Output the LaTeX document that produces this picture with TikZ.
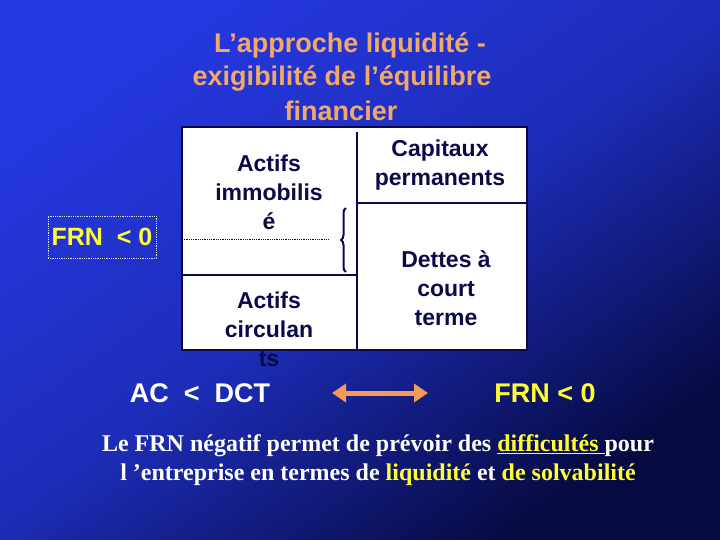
\documentclass[tikz,border=0pt]{standalone}
\usepackage{fontspec}
\setmainfont{Liberation Sans}
\newfontfamily\serifb{Liberation Serif}
\usetikzlibrary{arrows.meta,decorations.pathreplacing}
\definecolor{ink}{HTML}{0A0A48}
\definecolor{ttl}{HTML}{F4A868}
\definecolor{yel}{HTML}{FFFF33}
\definecolor{orng}{HTML}{F59A55}
\definecolor{bgA}{HTML}{2538E0}
\definecolor{bgB}{HTML}{060A40}
\tikzset{
  cell/.style={font=\bfseries\fontsize{23}{29}\selectfont, text=ink, align=center},
  ttlstyle/.style={font=\bfseries\fontsize{27}{33}\selectfont, text=ttl, align=center},
}
\begin{document}
\begin{tikzpicture}[x=1pt,y=-1pt]
\shade[top color=bgA, bottom color=bgB, middle color=bgA!75!bgB, shading angle=35] (0,0) rectangle (720,540);
\useasboundingbox (0,0) rectangle (720,540);
% title
\node[ttlstyle] (t1) at (350,45) {L’approche liquidité -};
\node[ttlstyle] (t2) at (342,78) {exigibilité de l’équilibre};
\node[ttlstyle] (t3) at (341,111) {financier};
% box
\fill[white] (182,127) rectangle (527,350);
\draw[ink,line width=2.5pt] (182,127) rectangle (527,350);
\draw[ink,line width=2.5pt] (357,132) -- (357,350);
\draw[ink,line width=2.5pt] (182,275) -- (357,275);
\draw[ink,line width=2.5pt] (357,203) -- (527,203);
\draw[ink,densely dotted,line width=0.8pt] (182,239) -- (328,239);
\draw[ink,line width=2pt,decorate,decoration={brace,amplitude=5pt}] (346,272) -- (346,208);
% texts
\node[cell] (ai) at (269,192) {Actifs\\immobilis\\é};
\node[cell] (ac) at (269,329) {Actifs\\circulan\\ts};
\node[cell] (cp) at (440,165) {Capitaux\\permanents};
\node[cell] (dct) at (446,288) {Dettes à\\court\\terme};
% FRN box
\node[draw=white!85!blue,densely dotted,line width=0.8pt,minimum width=108pt,minimum height=42pt,
      font=\bfseries\fontsize{25}{28}\selectfont,text=yel,inner sep=1pt] (frn1) at (102,237) {FRN\ \ < 0};
% bottom row
\node[font=\bfseries\fontsize{27}{30}\selectfont,text=white] (acd) at (200,393) {AC\ \ <\ \ DCT};
\node[font=\bfseries\fontsize{27}{30}\selectfont,text=yel] (frn2) at (545,393) {FRN < 0};
\coordinate (al) at (332,393);
\coordinate (ar) at (428,393);
\draw[orng,line width=5pt,{Triangle[length=14pt,width=18pt]}-{Triangle[length=14pt,width=18pt]}] (al) -- (ar);
\node[font=\serifb\bfseries\fontsize{24}{29}\selectfont,text=white,align=center] (conc) at (378,460)
 {Le FRN négatif permet de prévoir des \textcolor{yel}{\underline{difficultés }}pour\\
  l ’entreprise en termes de \textcolor{yel}{liquidité} et \textcolor{yel}{de solvabilité}};
\end{tikzpicture}
\end{document}
